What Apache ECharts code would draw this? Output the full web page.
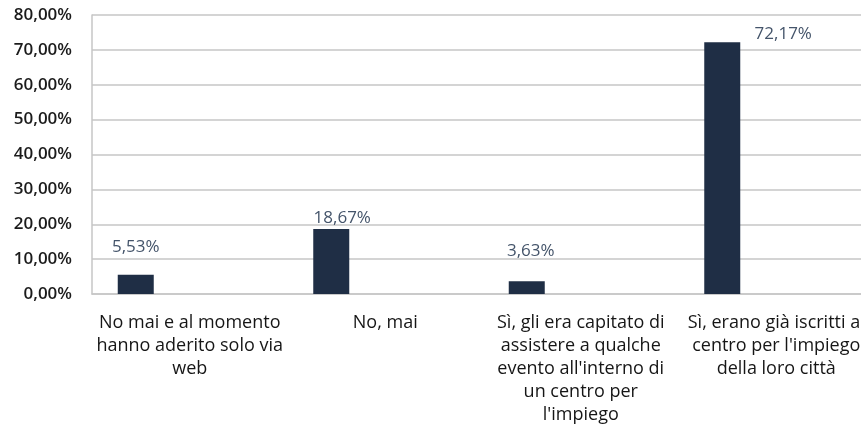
<!DOCTYPE html>
<html>
<head>
<meta charset="utf-8">
<script src="https://cdn.jsdelivr.net/npm/echarts@6/dist/echarts.min.js"></script>
<style>
  html, body { margin: 0; padding: 0; background: #fff; }
  #chart { width: 861px; height: 432px; }
</style>
</head>
<body>
<div id="chart"></div>
<script>
var categories = [
	'No mai e al momento\nhanno aderito solo via\nweb',
	'No, mai',
	'Sì, gli era capitato di\nassistere a qualche\nevento all\'interno di\nun centro per\nl\'impiego',
	'Sì, erano già iscritti al\ncentro per l\'impiego\ndella loro città'
];
var values = [5.53, 18.67, 3.63, 72.17];
var yTicks = [0, 10, 20, 30, 40, 50, 60, 70, 80];

// Excel placed the data labels by hand, so each one gets its own nudge
var labelOffsets = [[0, -14], [11, 3], [4, -17], [61, 5]];

function pct(v) {
	return v.toFixed(2).replace('.', ',') + '%';
}

var chart = echarts.init(document.getElementById('chart'));

var option = {
	animation: false,
	grid: {
		left: 92,
		width: 782,
		top: 15,
		bottom: 138,
		outerBoundsMode: 'none'
	},
	xAxis: {
		type: 'category',
		data: categories,
		axisTick: {show: false},
		axisLine: {lineStyle: {color: '#c6c6c6', width: 1.5}},
		axisLabel: {
			interval: 0,
			margin: 17,
			fontFamily: 'Open Sans',
			fontWeight: 500,
			fontSize: 18,
			lineHeight: 23,
			color: '#161616',
			align: 'center'
		}
	},
	yAxis: {
		type: 'value',
		min: yTicks[0],
		max: yTicks[yTicks.length - 1],
		interval: 10,
		axisLine: {show: true, lineStyle: {color: '#c6c6c6', width: 1.5}},
		axisTick: {show: false},
		splitLine: {lineStyle: {color: '#c6c6c6', width: 1.5}},
		axisLabel: {
			margin: 20,
			fontFamily: 'Open Sans',
			fontWeight: 600,
			fontSize: 17,
			color: '#1b1b1b',
			formatter: function (v) { return pct(v); }
		}
	},
	series: [
		{
			name: 'risposte',
			type: 'bar',
			barWidth: 36,
			barGap: '200%',
			itemStyle: {color: '#1f2e45'},
			label: {
				show: true,
				position: 'top',
				fontFamily: 'Open Sans',
				fontWeight: 500,
				fontSize: 17,
				color: '#44546a',
				formatter: function (p) { return pct(p.value); }
			},
			data: values.map(function (v, i) {
				return {value: v, label: {offset: labelOffsets[i]}};
			})
		},
		{
			name: 'vuota',
			type: 'bar',
			barWidth: 36,
			barGap: '200%',
			data: values.map(function () { return null; })
		}
	]
};

chart.setOption(option);
</script>
</body>
</html>
